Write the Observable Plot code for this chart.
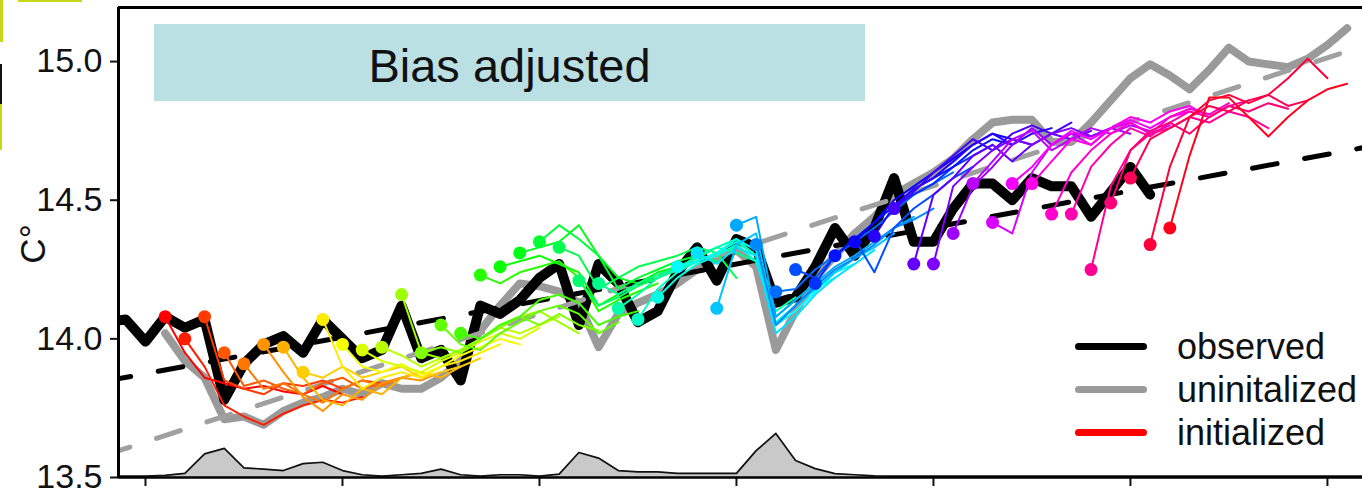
<!DOCTYPE html>
<html>
<head>
<meta charset="utf-8">
<script src="https://cdn.jsdelivr.net/npm/d3@7"></script>
<script src="https://cdn.jsdelivr.net/npm/@observablehq/plot@0.6"></script>
<style>
  html, body { margin: 0; padding: 0; background: #fff; }
  #wrap { position: relative; width: 1362px; height: 495px; overflow: hidden;
          font-family: "Liberation Sans", Arial, sans-serif; color: #111; }
  #wrap svg { position: absolute; left: 0; top: 0; }
  .ylabel { position: absolute; left: 32px; top: 244px; font-size: 35px; line-height: 1;
            transform: translate(-50%, -50%) rotate(-90deg); white-space: nowrap; }
  .badge { position: absolute; left: 154px; top: 24px; width: 711px; height: 77px; background: #bbe0e3; }
  .badge-text { position: absolute; left: 154px; top: 42px; width: 711px; text-align: center;
                font-size: 47px; line-height: 47px; }
  .key-line { position: absolute; left: 1075px; width: 72px; height: 7px; border-radius: 4px; }
  .key-text { position: absolute; left: 1177px; font-size: 36px; line-height: 36px; white-space: nowrap; }
  .edge { position: absolute; }
</style>
</head>
<body>
<div id="wrap"></div>
<script>
// Observed global mean surface temperature (°C)
const obsYears = [1958,1959,1960,1961,1962,1963,1964,1965,1966,1967,1968,1969,1970,1971,1972,1973,1974,1975,1976,1977,1978,1979,1980,1981,1982,1983,1984,1985,1986,1987,1988,1989,1990,1991,1992,1993,1994,1995,1996,1997,1998,1999,2000,2001,2002,2003,2004,2005,2006,2007,2008,2009,2010,2011];
const obsTemp  = [14.06,14.07,13.99,14.08,14.04,14.07,13.78,13.91,13.98,14.01,13.95,14.07,14.00,13.93,13.96,14.12,13.93,13.96,13.85,14.12,14.09,14.14,14.22,14.27,14.05,14.27,14.20,14.06,14.10,14.24,14.33,14.21,14.36,14.33,14.13,14.15,14.26,14.40,14.30,14.40,14.58,14.35,14.35,14.47,14.56,14.56,14.50,14.58,14.55,14.55,14.44,14.53,14.62,14.52];

// Uninitialized (historical + projection) ensemble mean (°C)
const uninitYears = [1961,1962,1963,1964,1965,1966,1967,1968,1969,1970,1971,1972,1973,1974,1975,1976,1977,1978,1979,1980,1981,1982,1983,1984,1985,1986,1987,1988,1989,1990,1991,1992,1993,1994,1995,1996,1997,1998,1999,2000,2001,2002,2003,2004,2005,2006,2007,2008,2009,2010,2011,2012,2013,2014,2015,2016,2017,2018,2019,2020,2021];
const uninitTemp  = [14.02,13.92,13.86,13.71,13.72,13.69,13.74,13.77,13.79,13.82,13.80,13.84,13.82,13.82,13.86,13.92,14.03,14.12,14.20,14.19,14.17,14.13,13.97,14.09,14.13,14.16,14.20,14.25,14.29,14.32,14.26,13.96,14.10,14.22,14.30,14.38,14.44,14.52,14.56,14.60,14.65,14.72,14.78,14.79,14.79,14.71,14.71,14.78,14.86,14.94,14.99,14.95,14.90,14.97,15.05,15.00,14.99,14.98,15.01,15.06,15.12];

// Linear trends (end points, °C)
const trendYears    = [1958, 2022];
const obsTrend      = [13.848, 14.692];
const uninitTrend   = [13.582, 15.060];

// Volcanic aerosol indicator, drawn along the bottom of the panel
const volcYears = [1958,1959,1960,1961,1962,1963,1964,1965,1966,1967,1968,1969,1970,1971,1972,1973,1974,1975,1976,1977,1978,1979,1980,1981,1982,1983,1984,1985,1986,1987,1988,1989,1990,1991,1992,1993,1994,1995,1996,1997,1998,1999,2000,2001,2002,2003,2004,2005,2006,2007,2008,2009,2010,2011,2012,2013,2014,2015,2016,2017,2018,2019,2020,2021,2022];
const volcValue = [13.505,13.505,13.505,13.508,13.515,13.585,13.605,13.535,13.530,13.525,13.550,13.555,13.525,13.510,13.505,13.510,13.515,13.530,13.510,13.505,13.510,13.510,13.505,13.512,13.590,13.570,13.525,13.520,13.520,13.515,13.515,13.515,13.515,13.597,13.659,13.561,13.532,13.514,13.510,13.506,13.505,13.505,13.505,13.505,13.505,13.505,13.505,13.505,13.505,13.505,13.505,13.505,13.505,13.505,13.505,13.505,13.505,13.505,13.505,13.505,13.505,13.505,13.505,13.505,13.505];

// Initialized decadal hindcasts: start year, then the initial state followed by nine forecast years
const forecastStarts = [1961,1962,1963,1964,1965,1966,1967,1968,1969,1970,1971,1972,1973,1974,1975,1976,1977,1978,1979,1980,1981,1982,1983,1984,1985,1986,1987,1988,1989,1990,1991,1992,1993,1994,1995,1996,1997,1998,1999,2000,2001,2002,2003,2004,2005,2006,2007,2008,2009,2010,2011,2012];
const forecastValues = [
  [14.08,13.95,13.86,13.84,13.82,13.83,13.81,13.80,13.83,13.80],
  [14.00,13.90,13.76,13.72,13.69,13.73,13.76,13.78,13.77,13.79],
  [14.08,13.85,13.82,13.80,13.84,13.83,13.85,13.82,13.85,13.84],
  [13.95,13.83,13.85,13.82,13.80,13.84,13.86,13.82,13.84,13.86],
  [13.91,13.82,13.84,13.80,13.77,13.82,13.85,13.83,13.86,13.88],
  [13.98,13.88,13.79,13.74,13.80,13.78,13.84,13.86,13.85,13.88],
  [13.97,13.86,13.78,13.76,13.82,13.80,13.86,13.88,13.86,13.90],
  [13.88,13.86,13.90,13.86,13.88,13.90,13.86,13.88,13.90,13.93],
  [14.07,13.90,13.82,13.86,13.88,13.86,13.90,13.92,13.95,13.98],
  [13.98,13.90,13.88,13.91,13.87,13.90,13.94,13.97,14.00,13.98],
  [13.96,13.92,13.90,13.88,13.92,13.95,13.99,14.02,14.00,14.04],
  [13.97,13.94,13.90,13.93,13.96,14.00,14.04,14.02,14.05,14.08],
  [14.16,13.95,13.93,13.96,14.00,14.05,14.08,14.10,14.06,14.02],
  [13.95,13.97,13.95,14.00,14.04,14.08,14.05,14.09,14.05,14.03],
  [14.05,13.98,13.96,14.02,14.06,14.10,14.12,14.09,14.02,14.06],
  [14.02,14.00,14.05,14.08,14.14,14.16,14.13,14.05,14.08,14.10],
  [14.23,14.20,14.24,14.26,14.28,14.22,14.10,14.14,14.17,14.20],
  [14.26,14.28,14.30,14.27,14.24,14.12,14.16,14.20,14.22,14.25],
  [14.31,14.33,14.35,14.41,14.30,14.22,14.20,14.24,14.26,14.28],
  [14.35,14.41,14.36,14.30,14.18,14.22,14.25,14.28,14.30,14.28],
  [14.33,14.30,14.18,14.22,14.26,14.28,14.30,14.33,14.31,14.22],
  [14.21,14.12,14.15,14.19,14.22,14.25,14.28,14.31,14.33,14.30],
  [14.20,14.16,14.20,14.23,14.26,14.29,14.33,14.31,14.28,14.15],
  [14.11,14.16,14.22,14.25,14.30,14.33,14.36,14.30,14.10,14.15],
  [14.07,14.18,14.24,14.28,14.31,14.35,14.30,14.08,14.14,14.20],
  [14.15,14.22,14.27,14.30,14.34,14.28,14.06,14.12,14.18,14.22],
  [14.26,14.28,14.31,14.36,14.32,14.05,14.10,14.17,14.24,14.27],
  [14.31,14.27,14.33,14.30,14.02,14.08,14.16,14.22,14.27,14.32],
  [14.11,14.34,14.38,14.05,14.12,14.18,14.24,14.29,14.33,14.38],
  [14.41,14.44,14.08,14.14,14.20,14.26,14.30,14.35,14.40,14.44],
  [14.34,14.05,14.12,14.19,14.25,14.29,14.34,14.40,14.43,14.47],
  [14.17,14.18,14.25,14.30,14.35,14.40,14.46,14.52,14.56,14.60],
  [14.25,14.22,14.30,14.36,14.24,14.40,14.47,14.52,14.58,14.62],
  [14.20,14.30,14.36,14.42,14.48,14.52,14.56,14.62,14.66,14.70],
  [14.30,14.36,14.42,14.48,14.54,14.58,14.62,14.68,14.72,14.70],
  [14.35,14.42,14.50,14.55,14.60,14.65,14.70,14.74,14.72,14.70],
  [14.37,14.48,14.54,14.58,14.64,14.70,14.74,14.70,14.74,14.76],
  [14.47,14.53,14.60,14.66,14.72,14.68,14.74,14.77,14.74,14.78],
  [14.27,14.52,14.58,14.66,14.70,14.64,14.70,14.74,14.72,14.75],
  [14.27,14.55,14.62,14.68,14.72,14.70,14.74,14.76,14.73,14.76],
  [14.38,14.55,14.62,14.70,14.76,14.70,14.74,14.73,14.76,14.74],
  [14.56,14.64,14.72,14.75,14.68,14.72,14.76,14.74,14.77,14.75],
  [14.42,14.38,14.60,14.70,14.74,14.70,14.76,14.78,14.74,14.77],
  [14.56,14.62,14.70,14.75,14.72,14.76,14.79,14.76,14.80,14.82],
  [14.56,14.64,14.72,14.70,14.76,14.80,14.78,14.82,14.84,14.80],
  [14.45,14.60,14.68,14.74,14.78,14.74,14.80,14.83,14.81,14.85],
  [14.45,14.62,14.70,14.76,14.73,14.78,14.82,14.80,14.84,14.86],
  [14.25,14.55,14.68,14.74,14.76,14.80,14.78,14.82,14.80,14.76],
  [14.49,14.68,14.75,14.78,14.74,14.80,14.84,14.82,14.85,14.83],
  [14.58,14.72,14.76,14.80,14.84,14.82,14.86,14.88,14.84,14.86],
  [14.34,14.62,14.80,14.86,14.88,14.85,14.88,14.94,15.01,14.94],
  [14.40,14.66,14.87,14.87,14.80,14.73,14.80,14.86,14.90,14.92]
];

// Axis ticks
const yTicks = [13.5, 14.0, 14.5, 15.0];
const xTicks = [1960, 1970, 1980, 1990, 2000, 2010, 2020];

// Legend entries
const legendLabels = ["observed", "uninitalized", "initialized"];
const legendColors = ["#000000", "#9a9a9a", "#ff0000"];

// ---- tables built from the arrays above ----
const xDomain = [1958.63, 2021.78];
const yDomain = [13.5, 15.195];

const observed = obsYears.map((year, i) => ({year, value: obsTemp[i]}));
const uninit = uninitYears.map((year, i) => ({year, value: uninitTemp[i]}));
const volcanic = volcYears.map((year, i) => ({year, value: volcValue[i]}));
const trendObs = trendYears.map((year, i) => ({year, value: obsTrend[i]}));
const trendUninit = trendYears.map((year, i) => ({year, value: uninitTrend[i]}));

// rainbow colouring by start date, one hue step per hindcast
const hindcastColor = (i) => d3.hsl(360 * i / forecastStarts.length, 1, 0.5).formatHex();
const hindcasts = forecastStarts.flatMap((start, i) =>
  forecastValues[i].map((value, k) => ({start, year: start + k, value, color: hindcastColor(i)})));
const initialStates = forecastStarts.map((start, i) => ({year: start, value: forecastValues[i][0], color: hindcastColor(i)}));

const chart = Plot.plot({
  width: 1362,
  height: 495,
  marginLeft: 118,
  marginRight: 0,
  marginTop: 7,
  marginBottom: 18,
  x: {domain: xDomain},
  y: {domain: yDomain},
  color: {type: "identity"},
  style: {fontFamily: "Liberation Sans, Arial, sans-serif", fontSize: "34px", background: "transparent", color: "#111"},
  marks: [
    // volcanic aerosol strip
    Plot.areaY(volcanic, {x: "year", y1: () => yDomain[0], y2: "value", fill: "#c9c9c9", curve: "linear", clip: true}),
    Plot.lineY(volcanic, {x: "year", y: "value", stroke: "#111", strokeWidth: 1.7, clip: true}),
    // uninitialized and observed series
    Plot.lineY(uninit, {x: "year", y: "value", stroke: "#9a9a9a", strokeWidth: 8, strokeLinejoin: "round", strokeLinecap: "round", clip: true}),
    Plot.lineY(observed, {x: "year", y: "value", stroke: "#000", strokeWidth: 10, strokeLinejoin: "round", strokeLinecap: "round", clip: true}),
    // trend lines
    Plot.lineY(trendUninit, {x: "year", y: "value", stroke: "#a0a0a0", strokeWidth: 5, strokeDasharray: "25,28", clip: true}),
    Plot.lineY(trendObs, {x: "year", y: "value", stroke: "#000", strokeWidth: 5, strokeDasharray: "25,28", clip: true}),
    // initialized hindcasts
    Plot.lineY(hindcasts, {x: "year", y: "value", z: "start", stroke: "color", strokeWidth: 2, strokeLinejoin: "round", clip: true}),
    Plot.dot(initialStates, {x: "year", y: "value", fill: "color", r: 6.5, clip: true}),
    // axes and panel border
    Plot.axisY({ticks: yTicks, tickFormat: d3.format(".1f"), tickSize: 8, tickPadding: 8, strokeWidth: 2, fontSize: 34, label: null}),
    Plot.axisX({ticks: xTicks, tickFormat: () => "", tickSize: 9, strokeWidth: 2, label: null}),
    Plot.ruleX([xDomain[0]], {stroke: "#000", strokeWidth: 3}),
    Plot.ruleY([yDomain[0]], {stroke: "#000", strokeWidth: 2.5}),
    Plot.ruleY([yDomain[1]], {stroke: "#000", strokeWidth: 3})
  ]
});

const wrap = document.getElementById("wrap");

// neighbouring-panel edge slivers at the left margin
[["#c6d816", 0, 0, 3, 42], ["#111", 0, 64, 2, 40], ["#c6d816", 0, 104, 2, 46], ["#c6d816", 18, 0, 64, 2]].forEach(([c, l, t, w, h]) => {
  const e = document.createElement("div");
  e.className = "edge";
  Object.assign(e.style, {background: c, left: l + "px", top: t + "px", width: w + "px", height: h + "px"});
  wrap.appendChild(e);
});

wrap.appendChild(chart);

const badge = document.createElement("div");
badge.className = "badge";
wrap.appendChild(badge);
const badgeText = document.createElement("div");
badgeText.className = "badge-text";
badgeText.textContent = "Bias adjusted";
wrap.appendChild(badgeText);

const ylab = document.createElement("div");
ylab.className = "ylabel";
ylab.textContent = "C°";
wrap.appendChild(ylab);

legendLabels.forEach((label, i) => {
  const line = document.createElement("div");
  line.className = "key-line";
  line.style.top = (343 + 43 * i) + "px";
  line.style.background = legendColors[i];
  wrap.appendChild(line);
  const text = document.createElement("div");
  text.className = "key-text";
  text.style.top = (329 + 43 * i) + "px";
  text.textContent = label;
  wrap.appendChild(text);
});
</script>
</body>
</html>
